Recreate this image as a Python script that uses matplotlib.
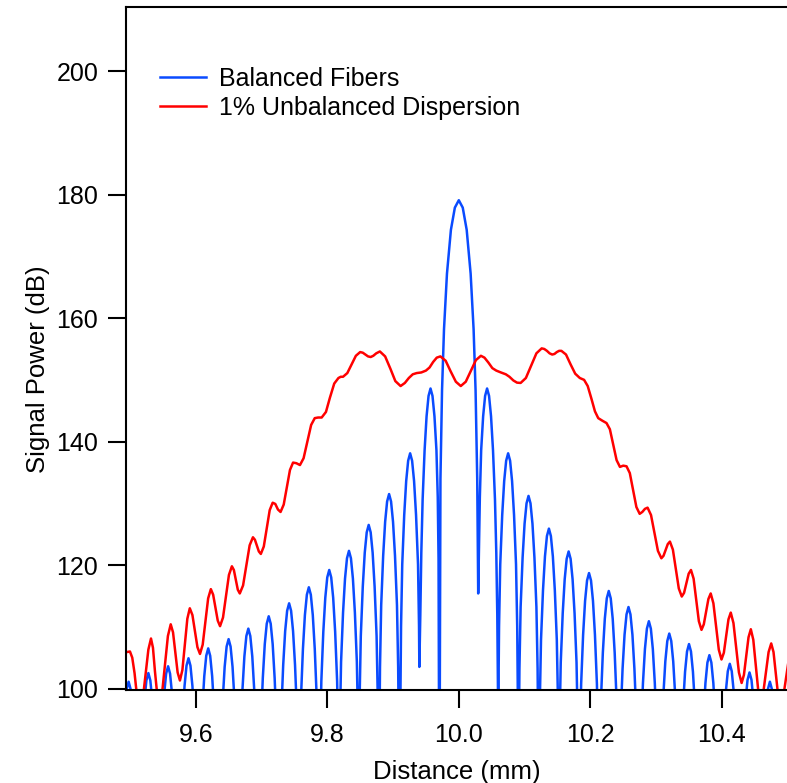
import matplotlib.pyplot as plt
import numpy as np

plt.rcParams['font.family'] = ['Liberation Sans', 'DejaVu Sans']

# balanced fibers: (distance mm, power dB), lobe by lobe
blue_xy = [
    (9.486, 83.1), (9.489, 91.1), (9.492, 96.6), (9.495, 99.9), (9.498, 101.1), (9.501, 99.9), (9.504, 96.6), (9.507, 91.1), (9.510, 83.1), (9.513, 60),
    (9.516, 84.5), (9.519, 92.5), (9.522, 98.0), (9.525, 101.3), (9.528, 102.5), (9.531, 101.3), (9.534, 98.0), (9.537, 92.5), (9.540, 84.5), (9.543, 60),
    (9.546, 85.6), (9.549, 93.6), (9.552, 99.1), (9.555, 102.4), (9.558, 103.6), (9.561, 102.4), (9.564, 99.1), (9.567, 93.6), (9.570, 85.6), (9.5735, 60),
    (9.577, 86.9), (9.580, 94.9), (9.583, 100.4), (9.586, 103.7), (9.589, 104.9), (9.592, 103.7), (9.595, 100.4), (9.598, 94.9), (9.601, 86.9), (9.604, 60),
    (9.607, 88.5), (9.610, 96.5), (9.613, 102.0), (9.616, 105.3), (9.619, 106.5), (9.622, 105.3), (9.625, 102.0), (9.628, 96.5), (9.631, 88.5), (9.6345, 60),
    (9.638, 90.0), (9.641, 98.0), (9.644, 103.5), (9.647, 106.8), (9.650, 108.0), (9.653, 106.8), (9.656, 103.5), (9.659, 98.0), (9.662, 90.0), (9.665, 60),
    (9.668, 91.7), (9.671, 99.7), (9.674, 105.2), (9.677, 108.5), (9.680, 109.7), (9.683, 108.5), (9.686, 105.2), (9.689, 99.7), (9.692, 91.7), (9.6955, 60),
    (9.6972, 83.7), (9.699, 93.7), (9.702, 101.7), (9.705, 107.2), (9.708, 110.5), (9.711, 111.7), (9.714, 110.5), (9.717, 107.2), (9.720, 101.7), (9.723, 93.7), (9.7248, 83.7), (9.7265, 60),
    (9.7282, 85.8), (9.730, 95.8), (9.733, 103.8), (9.736, 109.3), (9.739, 112.6), (9.742, 113.8), (9.745, 112.6), (9.748, 109.3), (9.751, 103.8), (9.754, 95.8), (9.7558, 85.8), (9.757, 60),
    (9.7582, 88.4), (9.760, 98.4), (9.763, 106.4), (9.766, 111.9), (9.769, 115.2), (9.772, 116.4), (9.775, 115.2), (9.778, 111.9), (9.781, 106.4), (9.784, 98.4), (9.7858, 88.4), (9.7875, 60),
    (9.7882, 79.2), (9.7892, 91.2), (9.791, 101.2), (9.794, 109.2), (9.797, 114.7), (9.800, 118.0), (9.803, 119.2), (9.806, 118.0), (9.809, 114.7), (9.812, 109.2), (9.815, 101.2), (9.8168, 91.2), (9.8178, 79.2), (9.818, 60),
    (9.8182, 82.3), (9.8192, 94.3), (9.821, 104.3), (9.824, 112.3), (9.827, 117.8), (9.830, 121.1), (9.833, 122.3), (9.836, 121.1), (9.839, 117.8), (9.842, 112.3), (9.845, 104.3), (9.8468, 94.3), (9.8478, 82.3), (9.848, 60),
    (9.8482, 86.5), (9.8492, 98.5), (9.851, 108.5), (9.854, 116.5), (9.857, 122.0), (9.860, 125.3), (9.863, 126.5), (9.866, 125.3), (9.869, 122.0), (9.872, 116.5), (9.875, 108.5), (9.8768, 98.5), (9.8778, 86.5), (9.8785, 60),
    (9.8792, 91.5), (9.8802, 103.5), (9.882, 113.5), (9.885, 121.5), (9.888, 127.0), (9.891, 130.3), (9.894, 131.5), (9.897, 130.3), (9.900, 127.0), (9.903, 121.5), (9.906, 113.5), (9.9078, 103.5), (9.9088, 91.5), (9.910, 60),
    (9.9112, 98.1), (9.9122, 110.1), (9.914, 120.1), (9.917, 128.1), (9.920, 133.6), (9.923, 136.9), (9.926, 138.1), (9.929, 136.9), (9.932, 133.6), (9.935, 128.1), (9.938, 120.1), (9.9395, 110.1), (9.940, 103.5),
    (9.9415, 112.0), (9.943, 122.0), (9.945, 130.6), (9.948, 138.6), (9.951, 144.1), (9.954, 147.4), (9.957, 148.6), (9.960, 147.4), (9.963, 144.1), (9.966, 138.6), (9.968, 131.0), (9.9692, 121.0), (9.9698, 100.0), (9.970, 60),
    (9.9721, 134.0), (9.9745, 148.3), (9.9775, 158.2), (9.982, 167.2), (9.988, 174.3), (9.994, 177.9), (10.000, 179.1),
    (10.006, 177.9), (10.012, 174.3), (10.018, 167.2), (10.0225, 158.2), (10.0255, 148.3), (10.028, 134.0), (10.0295, 115.4),
    (10.0308, 123.0), (10.032, 131.0), (10.034, 138.6), (10.037, 144.1), (10.040, 147.4), (10.043, 148.6), (10.046, 147.4), (10.049, 144.1), (10.052, 138.6), (10.055, 130.6), (10.057, 122.0), (10.0585, 112.0), (10.0595, 100.0), (10.060, 60),
    (10.0602, 98.1), (10.0612, 110.1), (10.063, 120.1), (10.066, 128.1), (10.069, 133.6), (10.072, 136.9), (10.075, 138.1), (10.078, 136.9), (10.081, 133.6), (10.084, 128.1), (10.087, 120.1), (10.0888, 110.1), (10.0898, 98.1), (10.0905, 60),
    (10.0912, 91.2), (10.0922, 103.2), (10.094, 113.2), (10.097, 121.2), (10.100, 126.7), (10.103, 130.0), (10.106, 131.2), (10.109, 130.0), (10.112, 126.7), (10.115, 121.2), (10.118, 113.2), (10.1198, 103.2), (10.1208, 91.2), (10.1215, 60),
    (10.1222, 85.9), (10.1232, 97.9), (10.125, 107.9), (10.128, 115.9), (10.131, 121.4), (10.134, 124.7), (10.137, 125.9), (10.140, 124.7), (10.143, 121.4), (10.146, 115.9), (10.149, 107.9), (10.1508, 97.9), (10.1518, 85.9), (10.152, 60),
    (10.1522, 82.2), (10.1532, 94.2), (10.155, 104.2), (10.158, 112.2), (10.161, 117.7), (10.164, 121.0), (10.167, 122.2), (10.170, 121.0), (10.173, 117.7), (10.176, 112.2), (10.179, 104.2), (10.1808, 94.2), (10.1818, 82.2), (10.1825, 60),
    (10.1832, 78.7), (10.1842, 90.7), (10.186, 100.7), (10.189, 108.7), (10.192, 114.2), (10.195, 117.5), (10.198, 118.7), (10.201, 117.5), (10.204, 114.2), (10.207, 108.7), (10.210, 100.7), (10.2118, 90.7), (10.2128, 78.7), (10.213, 60),
    (10.2142, 87.8), (10.216, 97.8), (10.219, 105.8), (10.222, 111.3), (10.225, 114.6), (10.228, 115.8), (10.231, 114.6), (10.234, 111.3), (10.237, 105.8), (10.240, 97.8), (10.2418, 87.8), (10.243, 60),
    (10.2442, 85.2), (10.246, 95.2), (10.249, 103.2), (10.252, 108.7), (10.255, 112.0), (10.258, 113.2), (10.261, 112.0), (10.264, 108.7), (10.267, 103.2), (10.270, 95.2), (10.2718, 85.2), (10.2735, 60),
    (10.2752, 82.9), (10.277, 92.9), (10.280, 100.9), (10.283, 106.4), (10.286, 109.7), (10.289, 110.9), (10.292, 109.7), (10.295, 106.4), (10.298, 100.9), (10.301, 92.9), (10.3028, 82.9), (10.3045, 60),
    (10.3062, 80.9), (10.308, 90.9), (10.311, 98.9), (10.314, 104.4), (10.317, 107.7), (10.320, 108.9), (10.323, 107.7), (10.326, 104.4), (10.329, 98.9), (10.332, 90.9), (10.3338, 80.9), (10.335, 60),
    (10.338, 89.2), (10.341, 97.2), (10.344, 102.7), (10.347, 106.0), (10.350, 107.2), (10.353, 106.0), (10.356, 102.7), (10.359, 97.2), (10.362, 89.2), (10.3655, 60),
    (10.369, 87.4), (10.372, 95.4), (10.375, 100.9), (10.378, 104.2), (10.381, 105.4), (10.384, 104.2), (10.387, 100.9), (10.390, 95.4), (10.393, 87.4), (10.3965, 60),
    (10.400, 86.0), (10.403, 94.0), (10.406, 99.5), (10.409, 102.8), (10.412, 104.0), (10.415, 102.8), (10.418, 99.5), (10.421, 94.0), (10.424, 86.0), (10.427, 60),
    (10.430, 84.6), (10.433, 92.6), (10.436, 98.1), (10.439, 101.4), (10.442, 102.6), (10.445, 101.4), (10.448, 98.1), (10.451, 92.6), (10.454, 84.6), (10.4575, 60),
    (10.461, 83.1), (10.464, 91.1), (10.467, 96.6), (10.470, 99.9), (10.473, 101.1), (10.476, 99.9), (10.479, 96.6), (10.482, 91.1), (10.485, 83.1), (10.488, 60),
    (10.491, 83.0), (10.494, 91.0), (10.497, 96.5), (10.500, 99.5),
]

# 1% unbalanced dispersion
red_xy = [
    (9.495, 105.9), (9.500, 106.0), (9.5035, 105.0), (9.507, 102.5), (9.511, 98.5), (9.515, 96.0),
    (9.519, 97.8), (9.5235, 102.0), (9.528, 106.3), (9.532, 108.1),
    (9.535, 106.6), (9.538, 102.8), (9.5415, 99.0), (9.5447, 97.5),
    (9.549, 99.4), (9.5533, 103.95), (9.5577, 108.5), (9.562, 110.4),
    (9.5655, 109.1), (9.569, 105.85), (9.5725, 102.6), (9.576, 101.3),
    (9.57975, 103.0), (9.5835, 107.15), (9.58725, 111.3), (9.591, 113.0),
    (9.595, 111.9), (9.5988, 109.3), (9.6026, 106.7), (9.6065, 105.6),
    (9.6106, 107.1), (9.6148, 110.85), (9.6189, 114.6), (9.623, 116.1),
    (9.6265, 115.2), (9.630, 113.1), (9.6335, 111.0), (9.637, 110.1),
    (9.6415, 111.5), (9.646, 114.95), (9.6505, 118.4), (9.655, 119.8),
    (9.658, 119.2), (9.661, 117.6), (9.664, 116.0), (9.667, 115.4),
    (9.672, 116.7), (9.677, 119.95), (9.682, 123.2), (9.687, 124.5),
    (9.690, 124.1), (9.693, 123.15), (9.696, 122.2), (9.699, 121.8),
    (9.7035, 123.0), (9.708, 125.95), (9.7125, 128.9), (9.717, 130.1),
    (9.721, 129.9), (9.725, 129.0), (9.729, 128.6),
    (9.7338, 129.8), (9.7385, 132.6), (9.7433, 135.4), (9.748, 136.6),
    (9.753, 136.5), (9.7585, 136.2),
    (9.764, 137.3), (9.7698, 140.0), (9.7755, 142.7), (9.781, 143.8),
    (9.786, 143.9), (9.7915, 143.9),
    (9.798, 144.8), (9.804, 147.1), (9.8106, 149.4), (9.817, 150.3),
    (9.8205, 150.5), (9.824, 150.5),
    (9.8305, 151.1), (9.837, 152.5), (9.8435, 153.9), (9.850, 154.5),
    (9.854, 154.4), (9.858, 154.1), (9.862, 153.8), (9.866, 153.7), (9.870, 153.9), (9.8745, 154.3), (9.880, 154.6),
    (9.888, 153.8), (9.896, 151.8), (9.9035, 149.8), (9.9115, 149.0),
    (9.918, 149.5), (9.924, 150.3), (9.930, 150.9), (9.936, 151.1), (9.943, 151.2), (9.950, 151.5),
    (9.9555, 152.0), (9.961, 152.9), (9.9665, 153.6), (9.972, 153.8),
    (9.980, 153.1), (9.9875, 151.4), (9.9955, 149.7), (10.003, 149.0),
    (10.0106, 149.7), (10.0183, 151.45), (10.026, 153.2), (10.0336, 153.9),
    (10.039, 153.6), (10.045, 152.8), (10.051, 151.9), (10.057, 151.5), (10.064, 151.2), (10.0715, 150.9),
    (10.077, 150.5), (10.083, 149.9), (10.0885, 149.55), (10.094, 149.5),
    (10.102, 150.3), (10.110, 152.3), (10.118, 154.3), (10.126, 155.1),
    (10.130, 155.0), (10.134, 154.7), (10.138, 154.3), (10.142, 154.1), (10.1455, 154.2), (10.149, 154.5), (10.1525, 154.7), (10.156, 154.7),
    (10.163, 154.1), (10.170, 152.5), (10.177, 151.0), (10.184, 150.3), (10.1905, 150.0),
    (10.196, 149.0), (10.2015, 147.0), (10.207, 144.9), (10.212, 143.8), (10.218, 143.4), (10.2246, 143.0),
    (10.2297, 142.0), (10.2348, 139.5), (10.2399, 137.0), (10.245, 135.9),
    (10.250, 136.1), (10.255, 136.0),
    (10.260, 134.9), (10.265, 132.15), (10.270, 129.4), (10.275, 128.3),
    (10.279, 128.6), (10.283, 129.1), (10.287, 129.3),
    (10.29225, 128.1), (10.2975, 125.2), (10.30275, 122.3), (10.308, 121.1),
    (10.31125, 121.5), (10.3145, 122.45), (10.31775, 123.4), (10.321, 123.8),
    (10.3255, 122.5), (10.330, 119.35), (10.3345, 116.2), (10.339, 114.9),
    (10.3425, 115.5), (10.346, 117.05), (10.3495, 118.6), (10.353, 119.2),
    (10.357, 117.8), (10.361, 114.35), (10.365, 110.9), (10.369, 109.5),
    (10.3725, 110.4), (10.376, 112.45), (10.3795, 114.5), (10.383, 115.4),
    (10.3871, 113.8), (10.3912, 110.05), (10.3953, 106.3), (10.3994, 104.7),
    (10.403, 105.8), (10.4065, 108.5), (10.410, 111.2), (10.4135, 112.3),
    (10.4176, 110.6), (10.4218, 106.6), (10.4259, 102.6), (10.430, 100.9),
    (10.4335, 102.2), (10.437, 105.25), (10.4405, 108.3), (10.444, 109.6),
    (10.44775, 107.9), (10.4515, 103.8), (10.45525, 99.7), (10.459, 98.0),
    (10.463, 99.4), (10.467, 102.65), (10.471, 105.9), (10.475, 107.3),
    (10.4785, 105.9), (10.482, 102.4), (10.4855, 98.9), (10.489, 97.5),
    (10.4945, 99.5), (10.500, 103.5), (10.505, 107.0),
]

x_ticks = [9.6, 9.8, 10.0, 10.2, 10.4]
y_ticks = [100, 120, 140, 160, 180, 200]

bx, by = np.array(blue_xy).T
rx, ry = np.array(red_xy).T

fig = plt.figure(figsize=(7.87, 7.83), dpi=100)
ax = fig.add_axes([126/787, 93/783, 661/787, 683/783])

ax.plot(bx, by, color='#0a4bff', lw=1.8, label='Balanced Fibers')
ax.plot(rx, ry, color='#ff0000', lw=1.8, label='1% Unbalanced Dispersion')

ax.set_xlim(9.494, 10.499)
ax.set_ylim(99.76, 210.4)
ax.set_xticks(x_ticks)
ax.set_xticklabels(['%.1f' % v for v in x_ticks])
ax.set_yticks(y_ticks)

ax.spines['right'].set_visible(False)
for s in ['left', 'bottom', 'top']:
    ax.spines[s].set_linewidth(1.5)
ax.tick_params(direction='out', length=13, width=1.5, labelsize=18)
ax.tick_params(axis='x', pad=11)
ax.tick_params(axis='y', pad=7)

ax.set_xlabel('Distance (mm)', fontsize=18.5)
ax.set_ylabel('Signal Power (dB)', fontsize=18.5)
ax.xaxis.set_label_coords(0.5, -0.1025)
ax.yaxis.set_label_coords(-0.115, 0.47)

ax.legend(loc='upper left', bbox_to_anchor=(0.0515, 0.912), frameon=False, fontsize=18,
          handlelength=1.85, handletextpad=0.5, labelspacing=0.2, borderpad=0, borderaxespad=0)

fig.savefig('out.png', dpi=100)
